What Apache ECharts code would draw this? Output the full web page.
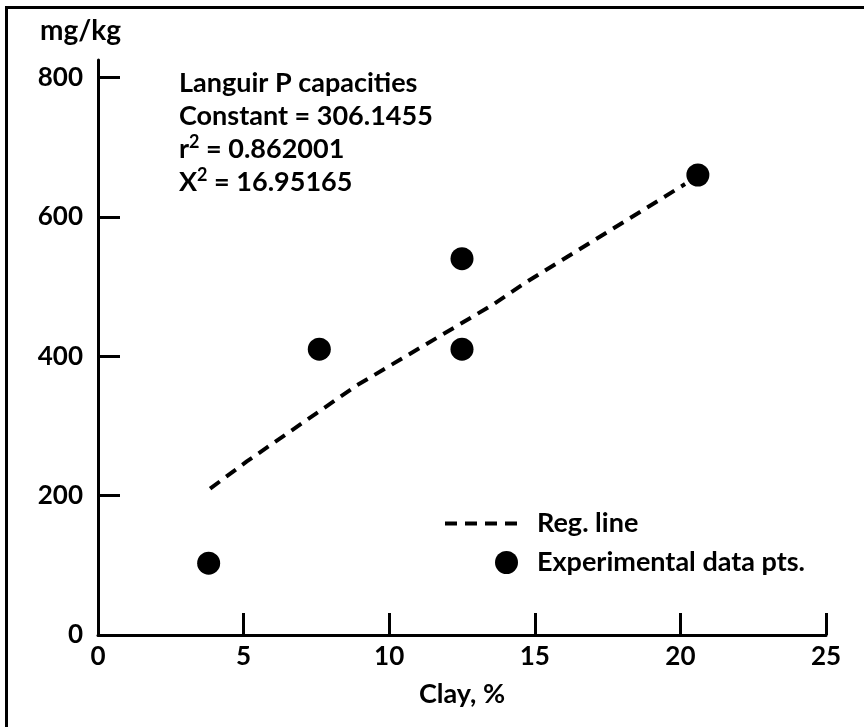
<!DOCTYPE html>
<html>
<head>
<meta charset="utf-8">
<script src="https://cdn.jsdelivr.net/npm/echarts@6/dist/echarts.min.js"></script>
<style>
html,body{margin:0;padding:0;background:#fff;}
#chart{width:864px;height:727px;}
</style>
</head>
<body>
<div id="chart"></div>
<script>
// Data
var experimentalPts = [[3.8, 103], [7.6, 410], [12.5, 540], [12.5, 410], [20.6, 660]];
var regLine = [[3.85, 210], [5.11, 249], [8.88, 358], [13.56, 474], [14.66, 505], [18.73, 610], [20.16, 647]];
var xTicks = [0, 5, 10, 15, 20, 25];
var yTicks = [0, 200, 400, 600, 800];
var annotationLines = ['Languir P capacities', 'Constant = 306.1455', 'r{s|2} = 0.862001', 'X{s|2} = 16.95165'];
var FONT = 'Lato';

var chart = echarts.init(document.getElementById('chart'), null, {renderer: 'canvas'});
var txt = {fontFamily: FONT, fontWeight: 'bold', fontSize: 27, color: '#000'};
var tickTxt = {fontFamily: FONT, fontWeight: 'bold', fontSize: 26, color: '#000'};
var dashIcon = 'path://M0,0h12v4h-12z M20,0h12v4h-12z M40,0h12v4h-12z M60,0h12v4h-12z';

var option = {
  backgroundColor: '#fff',
  animation: false,
  grid: {left: 98, right: 38, top: 60, bottom: 92, containLabel: false},
  xAxis: {
    type: 'value', min: 0, max: 25, interval: 5,
    name: 'Clay, %', nameLocation: 'middle', nameGap: 46,
    nameTextStyle: txt,
    axisLine: {show: true, onZero: false, lineStyle: {color: '#000', width: 3}},
    axisTick: {show: true, inside: true, length: 22, lineStyle: {color: '#000', width: 3}, customValues: xTicks},
    axisLabel: Object.assign({margin: 9, customValues: xTicks}, tickTxt),
    splitLine: {show: false}
  },
  yAxis: {
    type: 'value', min: 0, max: 825,
    axisLine: {show: true, onZero: false, lineStyle: {color: '#000', width: 3}},
    axisTick: {show: true, inside: true, length: 22, lineStyle: {color: '#000', width: 3}, customValues: yTicks},
    axisLabel: Object.assign({margin: 15, customValues: yTicks}, tickTxt),
    splitLine: {show: false}
  },
  legend: [
    {
      data: [{name: 'Reg. line', icon: dashIcon, itemStyle: {color: '#000', opacity: 1}}],
      left: 440, top: 505, itemWidth: 72, itemHeight: 4,
      itemGap: 0, selectedMode: false,
      textStyle: Object.assign({padding: [0, 0, 0, 15]}, txt)
    },
    {
      data: [{name: 'Experimental data pts.', icon: 'circle', itemStyle: {color: '#000', opacity: 1}}],
      left: 490, top: 544, itemWidth: 23, itemHeight: 23,
      itemGap: 0, selectedMode: false,
      textStyle: Object.assign({padding: [0, 0, 0, 14]}, txt)
    }
  ],
  graphic: [
    {type: 'rect', left: 4, top: 5, silent: true, z: -1,
     shape: {x: 0, y: 0, width: 900, height: 800},
     style: {fill: 'none', stroke: '#000', lineWidth: 3}},
    {type: 'text', left: 40, top: 17, style: {text: 'mg/kg', font: 'bold 28px ' + FONT, fill: '#000'}},
    {type: 'text', left: 179, top: 67,
     style: {
       text: annotationLines.join('\n'),
       fontFamily: FONT, fontWeight: 'bold', fontSize: 27, lineHeight: 33, fill: '#000',
       rich: {s: {fontFamily: FONT, fontWeight: 'bold', fontSize: 18, verticalAlign: 'top', lineHeight: 33, padding: [0, 0, 0, 0]}}
     }}
  ],
  series: [
    {
      name: 'Reg. line', type: 'line', data: regLine, symbol: 'none', smooth: false,
      itemStyle: {color: '#000'},
      lineStyle: {color: '#000', width: 4, type: [12, 8]}, z: 2
    },
    {
      name: 'Experimental data pts.', type: 'scatter', data: experimentalPts,
      symbol: 'circle', symbolSize: 23, itemStyle: {color: '#000', opacity: 1}, z: 3
    }
  ]
};
chart.setOption(option);
</script>
</body>
</html>
